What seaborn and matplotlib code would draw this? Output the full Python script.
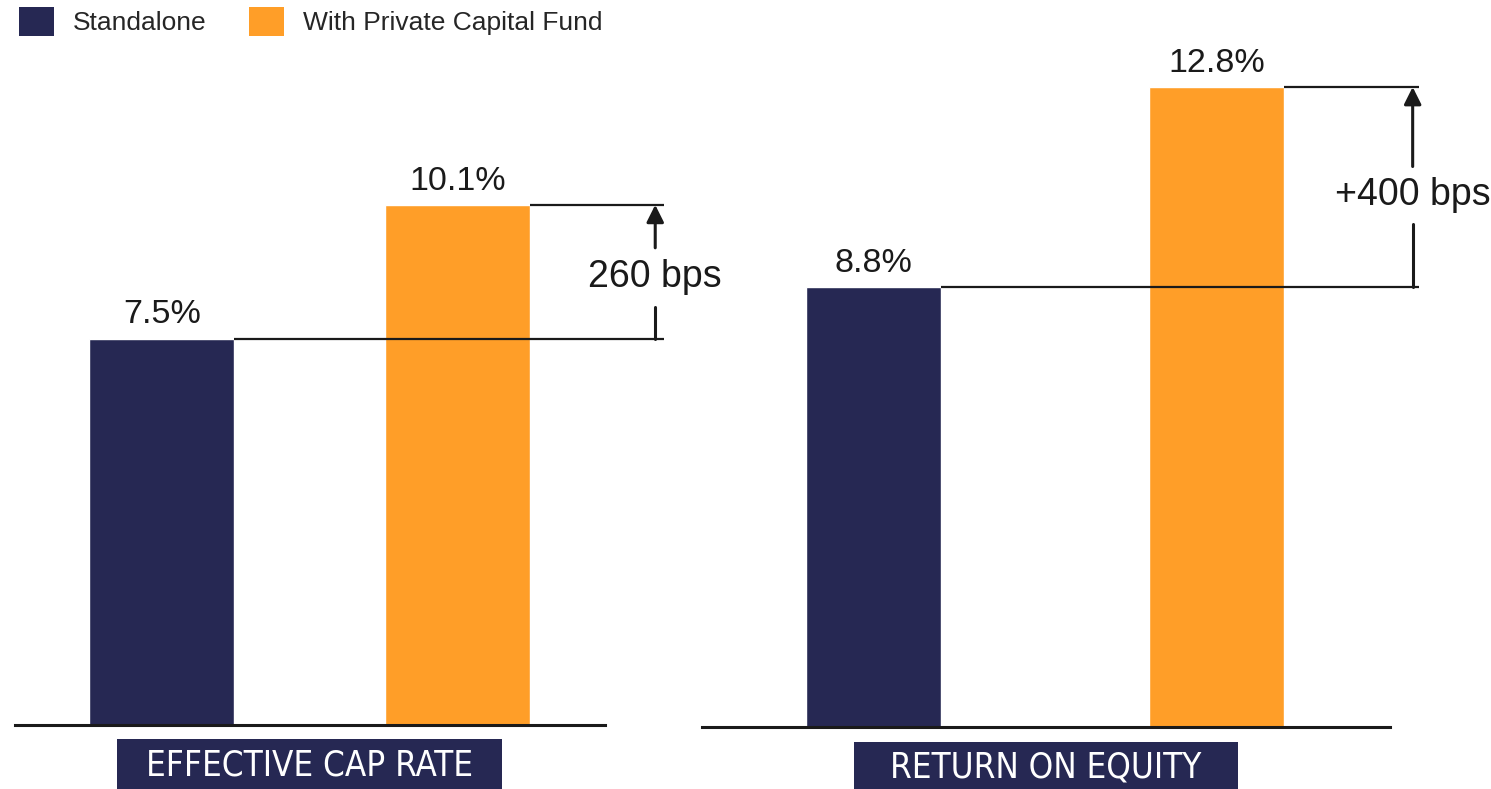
import pandas as pd
import matplotlib
matplotlib.use("Agg")
import matplotlib.pyplot as plt
import seaborn as sns
from matplotlib.patches import Patch, Rectangle

# chart data
series = ["Standalone", "With Private Capital Fund"]
cap_rate = [7.5, 10.1]
roe = [8.8, 12.8]
panel_titles = ["EFFECTIVE CAP RATE", "RETURN ON EQUITY"]
delta_labels = ["260 bps", "+400 bps"]

navy = "#262853"
orange = "#FF9E28"
ink = "#1a1a1a"
colors = [navy, orange]

sns.set_theme(style="white")
plt.rcParams["font.family"] = ["Liberation Sans", "DejaVu Sans"]

W, H = 1491, 789
fig = plt.figure(figsize=(W / 100, H / 100), dpi=100)
ax1 = fig.add_axes([15 / W, 1 - 725 / H, 590 / W, 721 / H])
ax2 = fig.add_axes([702 / W, 1 - 727 / H, 688 / W, 700 / H])

panels = [
    (ax1, cap_rate, 0.49, (-0.497, 1.5), 1.70, 1.67, delta_labels[0]),
    (ax2, roe, 0.393, (-0.499, 1.504), 1.587, 1.57, delta_labels[1]),
]

for ax, vals, bw, xlim, line_end, xa, dlabel in panels:
    ax.patch.set_visible(False)
    df = pd.DataFrame({"series": series, "value": vals})
    sns.barplot(data=df, x="series", y="value", hue="series", palette=colors,
                width=bw, saturation=1, legend=False, ax=ax)
    ax.set_ylim(0, 14)
    ax.set_xlim(*xlim)
    for c in ax.containers:
        ax.bar_label(c, fmt="%.1f%%", padding=6, fontsize=24.5, color=ink)
    for s in ["top", "right", "left"]:
        ax.spines[s].set_visible(False)
    ax.spines["bottom"].set_color(ink)
    ax.spines["bottom"].set_linewidth(2.2)
    ax.set_xticks([])
    ax.set_yticks([])
    ax.set_xlabel("")
    ax.set_ylabel("")

    # reference lines from bar tops to the bracket
    lo, hi = vals
    bars = ax.patches
    for b, v in zip(bars[:2], vals):
        ax.plot([b.get_x() + b.get_width(), line_end], [v, v], color=ink,
                lw=1.6, clip_on=False, solid_capstyle="butt")

    mid = lo + 0.46 * (hi - lo)
    gap = 0.57
    ax.annotate("", xy=(xa, hi), xytext=(xa, mid + gap),
                arrowprops=dict(arrowstyle="-|>", lw=2.2, color=ink,
                                mutation_scale=26, shrinkA=0, shrinkB=0),
                annotation_clip=False)
    ax.plot([xa, xa], [lo, mid - gap], color=ink, lw=2.2, clip_on=False)
    ax.text(xa, mid, dlabel, ha="center", va="center", fontsize=27,
            color=ink, clip_on=False, zorder=5)

# category label boxes under each panel
boxes = [(117, 739, 385), (854, 742, 384)]
for (bx, by, bwid), title in zip(boxes, panel_titles):
    fig.add_artist(Rectangle((bx / W, 0), bwid / W, (H - by) / H,
                             transform=fig.transFigure, facecolor=navy,
                             edgecolor="none"))
    fig.text((bx + bwid / 2) / W, (H - by) / 2 / H - 0.002, title,
             ha="center", va="center", color="white", fontsize=25,
             family="DejaVu Sans", fontstretch="condensed")

handles = [Patch(facecolor=c, edgecolor="none", label=s) for c, s in zip(colors, series)]
fig.legend(handles=handles, loc="upper left", bbox_to_anchor=(19 / W, 1 - 7 / H),
           ncol=2, frameon=False, fontsize=19, handlelength=1.33, handleheight=1.29,
           handletextpad=0.72, columnspacing=1.6, borderpad=0, borderaxespad=0)

fig.savefig("out.png", dpi=100)
